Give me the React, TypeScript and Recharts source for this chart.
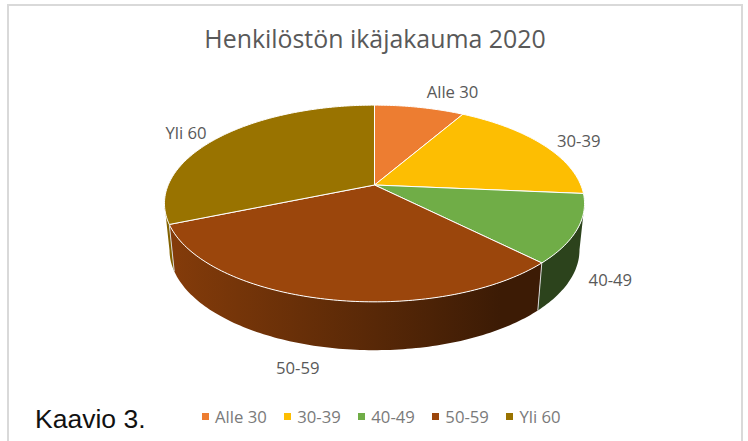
import React from 'react';
import { PieChart, Pie, Legend } from 'recharts';

const categories = ['Alle 30', '30-39', '40-49', '50-59', 'Yli 60'];
const shares = [8.3, 18.1, 11.2, 31.1, 31.3];
const colors = ['#ED7D31', '#FDBE02', '#70AD47', '#9B460C', '#997300'];

const data = categories.map((name, i) => ({ name, value: shares[i], fill: colors[i] }));

// tilted-pie projection, the near edge is larger than the far edge
const CX = 374.5;
const CY = 185;
const RADIUS = 206.3;
const SQUASH = 0.46;
const PERSPECTIVE = 0.1878;
const WALL_FIRST = 100.8;
const WALL_LAST = 259;

// label nudges from the rim point at the slice's mid angle
const labelNudge = [
  [33, -16],
  [36, -4],
  [33, 51],
  [-27, 68],
  [-33, -5],
];

const rim = (deg: number) => {
  const a = (deg * Math.PI) / 180;
  const u = Math.sin(a);
  const v = -Math.cos(a);
  const w = 1 - PERSPECTIVE * v;
  return { x: CX + (RADIUS * u) / w, y: CY + (RADIUS * SQUASH * v) / w };
};

const lower = (p: { x: number; y: number }) => ({
  x: CX + (p.x - CX) * 0.976,
  y: CY + 46 + (p.y - CY) * 1.02,
});

const arc = (from: number, to: number) => {
  const pts = [];
  const steps = Math.max(2, Math.ceil(Math.abs(to - from)));
  for (let i = 0; i <= steps; i++) pts.push(rim(from + ((to - from) * i) / steps));
  return pts;
};

const toPath = (pts: { x: number; y: number }[]) =>
  pts.map((p, i) => `${i ? 'L' : 'M'}${p.x.toFixed(2)} ${p.y.toFixed(2)}`).join(' ');

const shade = (hex: string, f: number) => {
  const n = parseInt(hex.slice(1), 16);
  const c = [(n >> 16) & 255, (n >> 8) & 255, n & 255].map((v) => Math.round(v * f));
  return `rgb(${c.join(',')})`;
};

const renderSlice = (props: any) => {
  const { startAngle, endAngle, fill } = props;
  const t0 = 90 - startAngle;
  const t1 = 90 - endAngle;
  const gradId = `wall-${fill.slice(1)}`;
  const from = Math.max(t0, WALL_FIRST);
  const to = Math.min(t1, WALL_LAST);
  const top = arc(t0, t1);
  let wall = null;
  if (to > from) {
    const edge = arc(from, to);
    const bottom = edge.map(lower).reverse();
    wall = (
      <>
        <defs>
          <linearGradient id={gradId} gradientUnits="userSpaceOnUse" x1={CX - 210} x2={CX + 210} y1={0} y2={0}>
            <stop offset="0" stopColor={shade(fill, 0.86)} />
            <stop offset="0.5" stopColor={shade(fill, 0.57)} />
            <stop offset="0.8" stopColor={shade(fill, 0.39)} />
            <stop offset="1" stopColor={shade(fill, 0.39)} />
          </linearGradient>
        </defs>
        <path d={toPath([...edge, ...bottom]) + ' Z'} fill={`url(#${gradId})`} />
        {t0 >= WALL_FIRST && (
          <path d={toPath([rim(t0), lower(rim(t0))])} stroke="#d8d8d8" strokeWidth={1} fill="none" />
        )}
      </>
    );
  }
  return (
    <g>
      {wall}
      <path
        d={toPath([{ x: CX, y: CY }, ...top]) + ' Z'}
        fill={fill}
        stroke="#ffffff"
        strokeWidth={1}
        strokeLinejoin="round"
      />
    </g>
  );
};

const renderLabel = (props: any) => {
  const { midAngle, index, name } = props;
  const p = rim(90 - midAngle);
  const [dx, dy] = labelNudge[index];
  return (
    <text
      x={p.x + dx}
      y={p.y + dy}
      textAnchor="middle"
      dominantBaseline="central"
      fill="#595959"
      fontSize={16.7}
      fontFamily="'Open Sans', sans-serif"
    >
      {name}
    </text>
  );
};

const renderLegend = (props: any) => (
  <div style={{ display: 'flex', gap: 17.5, fontFamily: "'Open Sans', sans-serif", fontSize: 16.7, color: '#7a7a7a' }}>
    {props.payload.map((entry: any) => (
      <div key={entry.value} style={{ display: 'flex', alignItems: 'center', gap: 6 }}>
        <span style={{ width: 7, height: 7, background: entry.color, display: 'inline-block' }} />
        <span>{entry.value}</span>
      </div>
    ))}
  </div>
);

export default function App() {
  return (
    <div style={{ position: 'absolute', left: 0, top: 0, width: 748, height: 441, background: '#fff', overflow: 'hidden' }}>
      <div
        style={{
          position: 'absolute',
          left: 7,
          top: 4,
          width: 732,
          height: 445,
          border: '2px solid #d9d9d9',
        }}
      />
      <div
        style={{
          position: 'absolute',
          left: 0,
          width: 750,
          top: 21,
          textAlign: 'center',
          fontFamily: "'Open Sans', sans-serif",
          fontSize: 24.9,
          color: '#595959',
          whiteSpace: 'nowrap',
        }}
      >
        Henkilöstön ikäjakauma 2020
      </div>
      <PieChart width={748} height={441} style={{ position: 'absolute', left: 0, top: 0 }}>
        <Pie
          data={data}
          dataKey="value"
          nameKey="name"
          cx={CX}
          cy={CY}
          outerRadius={RADIUS}
          startAngle={90}
          endAngle={-270}
          stroke="none"
          label={renderLabel}
          labelLine={false}
          shape={renderSlice}
          isAnimationActive={false}
        />
        <Legend
          content={renderLegend}
          itemSorter={null}
          wrapperStyle={{ position: 'absolute', left: 202, top: 405, width: 'auto', bottom: 'auto' }}
        />
      </PieChart>
      <div
        style={{
          position: 'absolute',
          left: 35,
          top: 404,
          fontFamily: "'Liberation Sans', Arial, sans-serif",
          fontSize: 26.5,
          color: '#111',
          whiteSpace: 'nowrap',
        }}
      >
        Kaavio 3.
      </div>
    </div>
  );
}
